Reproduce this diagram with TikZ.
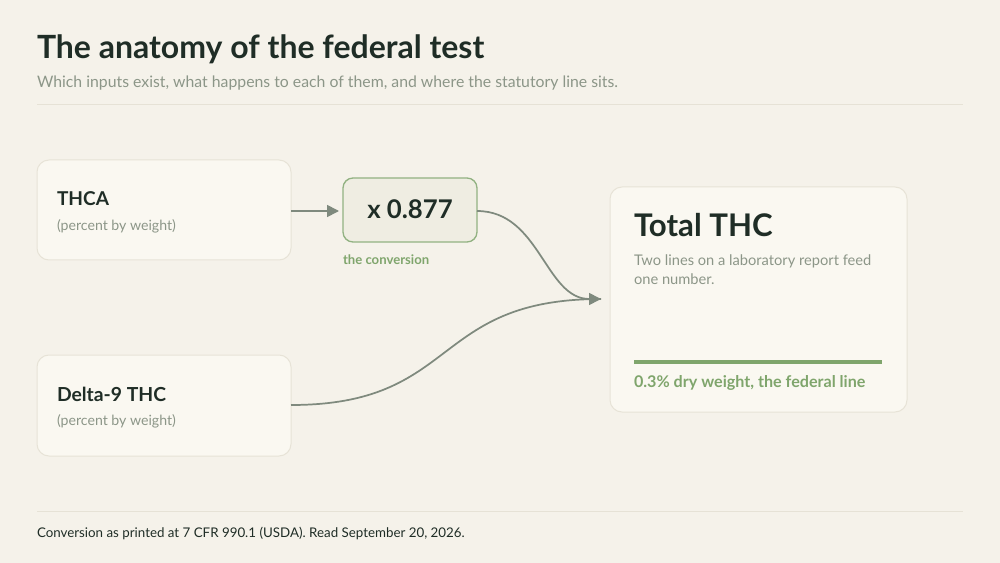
\documentclass[tikz,border=0pt]{standalone}
\usepackage{fontspec}
\setmainfont{Lato}
\usetikzlibrary{arrows.meta}
\definecolor{bg}{HTML}{F5F2EA}
\definecolor{card}{HTML}{FAF8F1}
\definecolor{cardline}{HTML}{E7E3D7}
\definecolor{ink}{HTML}{1F2D26}
\definecolor{muted}{HTML}{8C9688}
\definecolor{leaf}{HTML}{7FA56C}
\definecolor{convfill}{HTML}{EFEDE2}
\definecolor{wire}{HTML}{7F8A7E}
\definecolor{rule}{HTML}{E6E2D6}
\tikzset{
  card/.style={draw=cardline, fill=card, line width=0.75pt, rounded corners=9pt},
  convbox/.style={draw=leaf!85, fill=convfill, line width=1pt, rounded corners=7.5pt},
  txt/.style={anchor=base west, inner sep=0pt, outer sep=0pt},
  wireln/.style={draw=wire, line width=1.3pt},
  tip/.style={-{Triangle[length=9pt,width=9pt]}},
}
\begin{document}
\begin{tikzpicture}[x=0.75pt,y=-0.75pt]
\useasboundingbox[fill=bg] (0,0) rectangle (1000,563);
% header
\node[txt, text=ink, font=\fontsize{24pt}{28pt}\selectfont\bfseries] (title) at (37,59) {The anatomy of the federal test};
\node[txt, text=muted, font=\fontsize{11.85pt}{14pt}\selectfont] (sub) at (37,88) {Which inputs exist, what happens to each of them, and where the statutory line sits.};
\coordinate (r1a) at (37,105); \coordinate (r1b) at (963,105);
\draw[rule, line width=0.75pt] (r1a) -- (r1b);
% cards
\path[card] (37,160) rectangle (291,260);
\coordinate (thcaE) at (291,211);
\node[txt, text=ink, font=\fontsize{14.3pt}{16pt}\selectfont\bfseries] (thcaT) at (57,206) {THCA};
\node[txt, text=muted, font=\fontsize{10.6pt}{12pt}\selectfont] (thcaS) at (57,230) {(percent by weight)};
\path[card] (37,355) rectangle (291,456);
\coordinate (deltaE) at (291,405);
\node[txt, text=ink, font=\fontsize{14.5pt}{16pt}\selectfont\bfseries] (deltaT) at (57,401) {Delta-9 THC};
\node[txt, text=muted, font=\fontsize{10.6pt}{12pt}\selectfont] (deltaS) at (57,425) {(percent by weight)};
% conversion
\path[convbox] (343,178) rectangle (477,242);
\coordinate (convW) at (339,211);
\coordinate (convE) at (477,211);
\node[anchor=base, inner sep=0pt, text=ink, font=\fontsize{19.3pt}{22pt}\selectfont\bfseries] (convT) at (410,219) {x 0.877};
\node[txt, text=leaf, font=\fontsize{9.85pt}{11pt}\selectfont\bfseries] (convL) at (343,264) {the conversion};
% total
\path[card] (610,187) rectangle (907,412);
\coordinate (totalW) at (601,299);
\node[txt, text=ink, font=\fontsize{23.4pt}{28pt}\selectfont\bfseries] (totT) at (634,237) {Total THC};
\node[txt, text=muted, font=\fontsize{11pt}{14pt}\selectfont] (totS1) at (634,265) {Two lines on a laboratory report feed};
\node[txt, text=muted, font=\fontsize{11pt}{14pt}\selectfont] (totS2) at (634,284) {one number.};
\coordinate (glA) at (634,362); \coordinate (glB) at (882,362);
\draw[leaf, line width=2.4pt] (glA) -- (glB);
\node[txt, text=leaf, font=\fontsize{12.1pt}{14pt}\selectfont\bfseries] (fed) at (634,387) {0.3\% dry weight, the federal line};
% connectors
\draw[wireln, tip] (thcaE) -- (convW);
\draw[wireln, tip] (convE) .. controls (540,211) and (545,299) .. (totalW);
\draw[wireln] (deltaE) .. controls (460,405) and (430,299) .. (totalW);
% footer
\coordinate (r2a) at (37,511); \coordinate (r2b) at (963,511);
\draw[rule, line width=0.75pt] (r2a) -- (r2b);
\node[txt, text=ink, font=\fontsize{10pt}{12pt}\selectfont] (foot) at (37,537) {Conversion as printed at 7 CFR 990.1 (USDA). Read September 20, 2026.};
\end{tikzpicture}
\end{document}
